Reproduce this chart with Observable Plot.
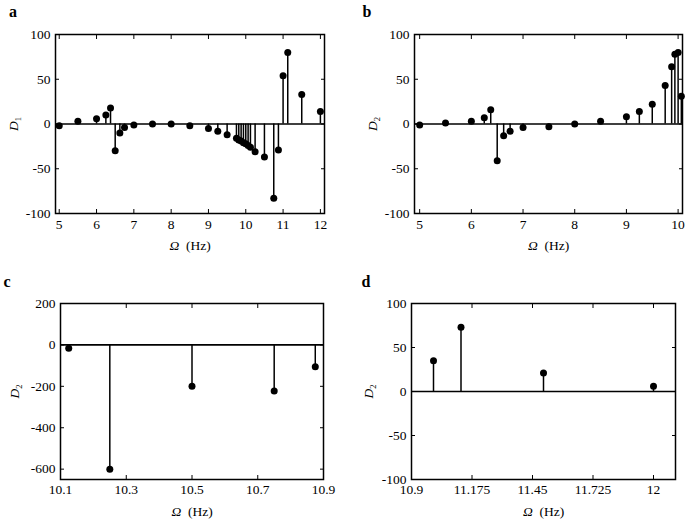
<!DOCTYPE html>
<html><head><meta charset="utf-8">
<script src="https://cdn.jsdelivr.net/npm/d3@7"></script>
<script src="https://cdn.jsdelivr.net/npm/@observablehq/plot@0.6"></script>
<style>
body{margin:0;background:#fff;}
#root{position:relative;width:685px;height:520px;background:#fff;}
.panel{position:absolute;}
</style></head><body><div id="root"></div>
<script>
// Panel a: D1 vs Omega
const freqA = [5,5.5,6,6.25,6.375,6.5,6.625,6.75,7,7.5,8,8.5,9,9.25,9.5,9.75,9.8125,9.875,9.9375,10,10.0625,10.125,10.25,10.5,10.75,10.875,11,11.125,11.5,12];
const d1A   = [-2,3,6,10,18,-30,-10,-4,-1,0,0,-2,-5,-8,-12,-16,-18,-19,-21,-22,-24,-26,-31,-37,-83,-29,54,80,33,14];
// Panel b: D2 vs Omega
const freqB = [5,5.5,6,6.25,6.375,6.5,6.625,6.75,7,7.5,8,8.5,9,9.25,9.5,9.75,9.875,9.9375,10,10.0625];
const d2B   = [-1,1,3,7,16,-41,-13,-8,-4,-3,0,3,8,14,22,43,64,78,80,31];
// Panel c
const freqC = [10.125,10.25,10.5,10.75,10.875];
const d2C   = [-16,-600,-200,-222,-105];
// Panel d
const freqD = [11,11.125,11.5,12];
const d2D   = [35,73,21,6];
// Ticks
const ticksA_x = [5,6,7,8,9,10,11,12];
const ticksB_x = [5,6,7,8,9,10];
const ticksAB_y = [-100,-50,0,50,100];
const ticksC_x = [10.1,10.3,10.5,10.7,10.9];
const ticksC_y = [-600,-400,-200,0,200];
const ticksD_x = [10.9,11.175,11.45,11.725,12];
const ticksD_y = [-100,-50,0,50,100];

const FONT = '"Liberation Serif", serif';

function panel(cfg) {
  const data = cfg.xs.map((x, i) => ({x, y: cfg.ys[i]}));
  const fmt = d => String(d);
  const svg = Plot.plot({
    width: cfg.width, height: cfg.height,
    marginLeft: cfg.m[0], marginRight: cfg.m[1], marginTop: cfg.m[2], marginBottom: cfg.m[3],
    style: {fontFamily: FONT, fontSize: "13.5px", color: "black", background: "white", overflow: "visible"},
    x: {domain: cfg.xDomain},
    y: {domain: cfg.yDomain},
    marks: [
      Plot.ruleY([0], {stroke: "black", strokeWidth: 1.6}),
      Plot.ruleX(data, {x: "x", y1: 0, y2: "y", stroke: "black", strokeWidth: 1.5}),
      Plot.dot(data, {x: "x", y: "y", r: 3.5, fill: "black", stroke: "none"}),
      Plot.frame({stroke: "black", strokeWidth: 1.5}),
      Plot.axisX({ticks: cfg.xTicks, anchor: "bottom", tickSize: -4, tickPadding: cfg.xPad, tickFormat: fmt,
        label: "Ω (Hz)", labelAnchor: "center", labelOffset: cfg.xLab}),
      Plot.axisX({ticks: cfg.xTicks, anchor: "top", tickSize: -4, tickFormat: () => "", label: null}),
      Plot.axisY({ticks: cfg.yTicks, anchor: "left", tickSize: -4, tickPadding: 9, tickFormat: fmt,
        label: "D" + cfg.sub, labelAnchor: "center", labelOffset: cfg.yLab}),
      Plot.axisY({ticks: cfg.yTicks, anchor: "right", tickSize: -4, tickFormat: () => "", label: null})
    ]
  });
  const s = d3.select(svg);
  s.select('g[aria-label="x-axis label"] text')
    .html('<tspan font-style="italic">Ω</tspan><tspan>  (Hz)</tspan>');
  s.select('g[aria-label="y-axis label"] text')
    .html('<tspan font-style="italic">D</tspan><tspan font-size="8.5" dy="3">' + cfg.sub + '</tspan>');
  s.append("text").attr("x", cfg.tag[1]).attr("y", cfg.tag[2])
    .attr("font-family", FONT).attr("font-weight", "bold").attr("font-size", 16)
    .attr("fill", "black").text(cfg.tag[0]);
  const div = document.createElement("div");
  div.className = "panel";
  div.style.left = cfg.left + "px";
  div.style.top = cfg.top + "px";
  div.appendChild(svg);
  document.getElementById("root").appendChild(div);
}

panel({left: 0, top: 0, width: 342, height: 260, m: [55, 18, 34, 47],
  xDomain: [4.9, 12.11], yDomain: [-100, 100], xTicks: ticksA_x, yTicks: ticksAB_y,
  xs: freqA, ys: d1A, sub: "1", xPad: 10, xLab: 36, yLab: 47, tag: ["a", 13, 17]});
panel({left: 342, top: 0, width: 343, height: 260, m: [72, 3, 34, 47],
  xDomain: [4.9, 10.085], yDomain: [-100, 100], xTicks: ticksB_x, yTicks: ticksAB_y,
  xs: freqB, ys: d2B, sub: "2", xPad: 10, xLab: 36, yLab: 47, tag: ["b", 25, 17]});
panel({left: 0, top: 260, width: 342, height: 260, m: [60, 19, 43, 41],
  xDomain: [10.1, 10.9], yDomain: [-650, 200], xTicks: ticksC_x, yTicks: ticksC_y,
  xs: freqC, ys: d2C, sub: "2", xPad: 9, xLab: 36, yLab: 51, tag: ["c", 7, 27]});
panel({left: 342, top: 260, width: 343, height: 260, m: [69, 10, 43, 41],
  xDomain: [10.9, 12.1], yDomain: [-100, 100], xTicks: ticksD_x, yTicks: ticksD_y,
  xs: freqD, ys: d2D, sub: "2", xPad: 9, xLab: 36, yLab: 48, tag: ["d", 24, 27]});
</script>
</body></html>
